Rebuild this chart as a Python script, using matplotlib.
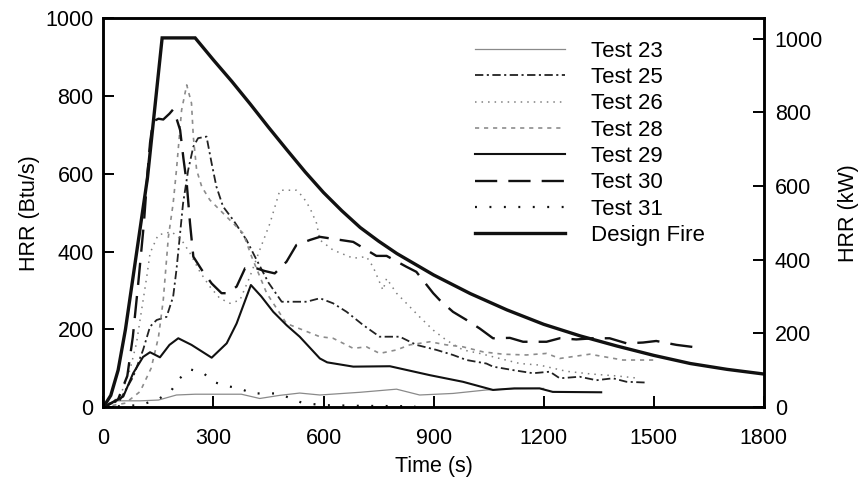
import matplotlib
matplotlib.use("Agg")
import matplotlib.pyplot as plt

plt.rcParams['font.family'] = ['Liberation Sans', 'DejaVu Sans']
plt.rcParams['lines.scale_dashes'] = False

# ---- data (time in s, HRR in Btu/s) ----
t23 = [0, 20, 40, 100, 150, 199, 250, 376, 426, 480, 535, 590, 700, 799, 862, 953, 1044, 1120, 1200]
h23 = [0, 10, 16, 16, 18, 31, 33, 33, 22, 30, 36, 31, 38, 46, 31, 35, 44, 47, 48]

t25 = [0, 45, 81, 108, 127, 145, 172, 190, 199, 208, 217, 231, 245, 258, 281, 295, 308, 326, 354,
       390, 413, 450, 486, 554, 590, 626, 663, 708, 753, 808, 853, 908, 953, 990, 1044, 1062, 1117,
       1171, 1217, 1244, 1298, 1344, 1389, 1426, 1480]
h25 = [0, 18, 78, 147, 207, 224, 232, 284, 353, 438, 524, 610, 670, 692, 696, 627, 567, 516, 481,
       430, 387, 320, 271, 271, 280, 267, 245, 211, 181, 181, 160, 147, 134, 121, 112, 104, 95,
       87, 91, 74, 78, 69, 74, 65, 63]

t26 = [0, 45, 72, 90, 104, 118, 127, 149, 186, 213, 236, 263, 290, 317, 345, 372, 399, 426, 454,
       481, 526, 544, 563, 581, 590, 626, 681, 717, 735, 762, 772, 799, 826, 862, 899, 935, 980,
       1026, 1080, 1135, 1189, 1262, 1330, 1400, 1450]
h26 = [0, 27, 95, 164, 250, 335, 396, 443, 451, 430, 396, 348, 310, 280, 267, 275, 335, 404, 473,
       558, 558, 541, 512, 473, 430, 404, 383, 387, 361, 301, 331, 293, 267, 232, 198, 172, 147,
       138, 125, 112, 108, 92, 85, 80, 75]

t28 = [0, 60, 100, 130, 150, 163, 177, 190, 199, 213, 227, 240, 245, 254, 268, 290, 345, 381, 404,
       445, 499, 590, 626, 681, 717, 753, 799, 835, 890, 935, 980, 1035, 1089, 1153, 1208, 1244,
       1326, 1416, 1507]
h28 = [0, 10, 40, 100, 180, 275, 438, 524, 610, 764, 829, 782, 696, 610, 567, 533, 481, 447, 387,
       293, 215, 181, 177, 151, 155, 138, 147, 160, 168, 160, 155, 142, 136, 134, 138, 125,
       136, 121, 121]

t29 = [0, 18, 54, 81, 108, 127, 154, 180, 204, 240, 295, 336, 363, 402, 430, 463, 500, 535, 590,
       610, 681, 781, 890, 980, 1062, 1120, 1189, 1225, 1357]
h29 = [0, 8, 27, 87, 129, 141, 128, 160, 177, 160, 127, 164, 215, 314, 285, 245, 210, 181, 125,
       115, 104, 105, 82, 65, 44, 48, 48, 39, 38]

t30 = [0, 40, 65, 80, 95, 110, 120, 127, 135, 150, 163, 180, 190, 200, 209, 218, 227, 236, 245,
       268, 295, 322, 337, 363, 386, 417, 440, 467, 499, 526, 563, 590, 681, 744, 772, 826, 853,
       899, 917, 953, 990, 1026, 1062, 1108, 1144, 1208, 1244, 1289, 1335, 1380, 1426, 1471,
       1507, 1562, 1612]
h30 = [0, 20, 80, 180, 320, 470, 600, 680, 735, 742, 740, 755, 766, 740, 713, 640, 576, 473, 387,
       353, 318, 293, 293, 310, 357, 357, 350, 344, 374, 417, 430, 438, 425, 389, 389, 361, 348,
       293, 275, 245, 224, 202, 177, 178, 168, 168, 177, 174, 177, 177, 164, 166,
       170, 160, 154]

t31 = [0, 100, 150, 186, 208, 236, 272, 299, 336, 372, 404, 476, 544, 600, 700, 850]
h31 = [0, 5, 20, 44, 74, 97, 88, 65, 54, 48, 35, 35, 10, 5, 3, 2]

t_df = [0, 20, 40, 60, 80, 100, 120, 140, 160, 250, 300, 350, 400, 450, 500, 550, 600, 650, 700,
        750, 800, 900, 1000, 1100, 1200, 1300, 1400, 1500, 1600, 1700, 1800]
h_df = [0, 30, 95, 200, 330, 460, 590, 770, 950, 950, 893, 838, 780, 720, 662, 605, 552, 505, 462,
        427, 395, 340, 292, 250, 213, 183, 157, 133, 112, 97, 85]

labels = ["Test 23", "Test 25", "Test 26", "Test 28", "Test 29", "Test 30", "Test 31", "Design Fire"]
x_ticks = [0, 300, 600, 900, 1200, 1500, 1800]
btu_ticks = [0, 200, 400, 600, 800, 1000]
kw_ticks = [0, 200, 400, 600, 800, 1000]
KW_PER_BTU = 1.055

fig = plt.figure(figsize=(8.6, 4.8), dpi=100)
ax = fig.add_axes([0.1203, 0.152, 0.7677, 0.8095])

ax.plot(t23, h23, color='#8a8a8a', lw=0.9, label=labels[0])
ax.plot(t25, h25, color='#222222', lw=1.3, linestyle=(0, (6, 2.5, 1.5, 2.5)), label=labels[1])
ax.plot(t26, h26, color='#808080', lw=1.1, linestyle=(0, (1.1, 3.6)), label=labels[2])
ax.plot(t28, h28, color='#8c8c8c', lw=1.2, linestyle=(0, (3, 3.5)), label=labels[3])
ax.plot(t29, h29, color='#111111', lw=1.5, label=labels[4])
ax.plot(t30, h30, color='#111111', lw=1.7, linestyle=(0, (16, 8)), label=labels[5])
ax.plot(t31, h31, color='#111111', lw=1.6, linestyle=(0, (1.4, 9)), label=labels[6])
ax.plot(t_df, h_df, color='#111111', lw=2.4, label=labels[7], solid_joinstyle='miter')

ax.set_xlim(0, 1800)
ax.set_ylim(0, 1000)
ax.set_xticks(x_ticks)
ax.set_yticks(btu_ticks)
ax.tick_params(axis='both', direction='in', length=8, width=1.4, labelsize=15.5)
ax.tick_params(axis='x', pad=15)
ax.tick_params(axis='y', pad=7)
ax.tick_params(top=False, right=False)
ax.set_xlabel("Time (s)", fontsize=15.5, labelpad=5)
ax.set_ylabel("HRR (Btu/s)", fontsize=15.5, labelpad=4)
for s in ax.spines.values():
    s.set_linewidth(1.8)

ax2 = ax.twinx()
ax2.set_ylim(0, 1000 * KW_PER_BTU)
ax2.set_yticks(kw_ticks)
ax2.tick_params(axis='y', direction='in', length=8, width=1.4, labelsize=15.5, pad=8)
ax2.set_ylabel("HRR (kW)", fontsize=15.5, labelpad=11)
for s in ax2.spines.values():
    s.set_linewidth(1.8)

leg = ax.legend(loc='upper left', bbox_to_anchor=(0.5625, 0.943), frameon=False,
                fontsize=16, handlelength=4.05, handletextpad=1.2, labelspacing=0.24,
                borderaxespad=0.0, borderpad=0.0)

fig.savefig("out.png", dpi=100)
